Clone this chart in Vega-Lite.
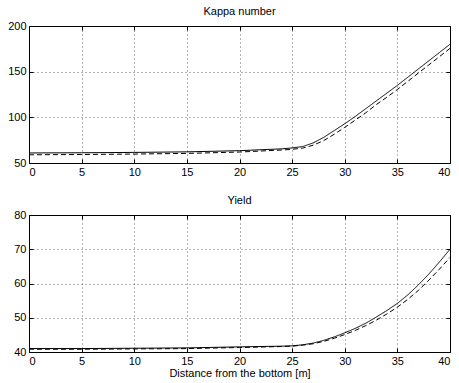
{
  "$schema": "https://vega.github.io/schema/vega-lite/v6.json",
  "padding": {"left": 7, "top": 5, "right": 7, "bottom": 2},
  "background": "white",
  "spacing": 16,
  "config": {
    "font": "Liberation Sans",
    "view": {"stroke": "black", "strokeWidth": 1},
    "axis": {
      "domain": false,
      "grid": true,
      "gridColor": "#000",
      "gridDash": [1, 3],
      "gridOpacity": 0.6,
      "tickColor": "#000",
      "tickSize": -4,
      "labelColor": "#000",
      "labelFont": "Liberation Sans",
      "labelFontSize": 11,
      "labelPadding": 7,
      "titleFont": "Liberation Sans",
      "titleFontSize": 11,
      "titleFontWeight": "normal",
      "titleColor": "#000"
    },
    "title": {"font": "Liberation Sans", "fontSize": 11, "fontWeight": "normal", "color": "#000", "offset": 3}
  },
  "data": {
    "values": [
      {"x": 0, "run": "solid", "kappa": 61.0, "yield": 41.0},
      {"x": 5, "run": "solid", "kappa": 61.2, "yield": 41.0},
      {"x": 10, "run": "solid", "kappa": 61.6, "yield": 41.1},
      {"x": 15, "run": "solid", "kappa": 62.2, "yield": 41.2},
      {"x": 20, "run": "solid", "kappa": 63.5, "yield": 41.5},
      {"x": 24, "run": "solid", "kappa": 65.5, "yield": 41.7},
      {"x": 25, "run": "solid", "kappa": 66.5, "yield": 41.8},
      {"x": 26, "run": "solid", "kappa": 68.0, "yield": 42.1},
      {"x": 27, "run": "solid", "kappa": 72.0, "yield": 42.6},
      {"x": 28, "run": "solid", "kappa": 78.0, "yield": 43.4},
      {"x": 29, "run": "solid", "kappa": 85.5, "yield": 44.4},
      {"x": 30, "run": "solid", "kappa": 93.0, "yield": 45.6},
      {"x": 31, "run": "solid", "kappa": 101.0, "yield": 46.9},
      {"x": 32, "run": "solid", "kappa": 109.5, "yield": 48.4},
      {"x": 33, "run": "solid", "kappa": 118.0, "yield": 50.2},
      {"x": 34, "run": "solid", "kappa": 126.5, "yield": 52.1},
      {"x": 35, "run": "solid", "kappa": 135.0, "yield": 54.2},
      {"x": 36, "run": "solid", "kappa": 144.0, "yield": 56.7},
      {"x": 37, "run": "solid", "kappa": 153.0, "yield": 59.6},
      {"x": 38, "run": "solid", "kappa": 162.0, "yield": 62.8},
      {"x": 39, "run": "solid", "kappa": 171.0, "yield": 66.3},
      {"x": 40, "run": "solid", "kappa": 180.0, "yield": 70.0},
      {"x": 0, "run": "dashed", "kappa": 59.0, "yield": 40.8},
      {"x": 5, "run": "dashed", "kappa": 59.3, "yield": 40.8},
      {"x": 10, "run": "dashed", "kappa": 59.8, "yield": 40.9},
      {"x": 15, "run": "dashed", "kappa": 60.5, "yield": 41.0},
      {"x": 20, "run": "dashed", "kappa": 62.0, "yield": 41.3},
      {"x": 24, "run": "dashed", "kappa": 64.2, "yield": 41.6},
      {"x": 25, "run": "dashed", "kappa": 65.0, "yield": 41.7},
      {"x": 26, "run": "dashed", "kappa": 66.3, "yield": 42.0},
      {"x": 27, "run": "dashed", "kappa": 69.5, "yield": 42.4},
      {"x": 28, "run": "dashed", "kappa": 74.5, "yield": 43.1},
      {"x": 29, "run": "dashed", "kappa": 81.5, "yield": 44.0},
      {"x": 30, "run": "dashed", "kappa": 89.0, "yield": 45.1},
      {"x": 31, "run": "dashed", "kappa": 97.0, "yield": 46.3},
      {"x": 32, "run": "dashed", "kappa": 105.0, "yield": 47.7},
      {"x": 33, "run": "dashed", "kappa": 114.0, "yield": 49.3},
      {"x": 34, "run": "dashed", "kappa": 122.0, "yield": 51.1},
      {"x": 35, "run": "dashed", "kappa": 130.5, "yield": 53.1},
      {"x": 36, "run": "dashed", "kappa": 139.5, "yield": 55.4},
      {"x": 37, "run": "dashed", "kappa": 148.5, "yield": 58.0},
      {"x": 38, "run": "dashed", "kappa": 157.5, "yield": 61.0},
      {"x": 39, "run": "dashed", "kappa": 166.5, "yield": 64.2},
      {"x": 40, "run": "dashed", "kappa": 175.5, "yield": 67.6}
    ]
  },
  "vconcat": [
    {
      "width": 421,
      "height": 137,
      "title": "Kappa number",
      "resolve": {"axis": {"x": "independent", "y": "independent"}},
      "layer": [
        {
          "mark": {"type": "line", "color": "black", "strokeWidth": 1, "clip": true},
          "encoding": {
            "x": {"field": "x", "type": "quantitative", "scale": {"domain": [0, 40], "nice": false}, "axis": {"values": [0,5,10,15,20,25,30,35,40], "title": null}},
            "y": {"field": "kappa", "type": "quantitative", "scale": {"domain": [50, 200], "nice": false, "zero": false}, "axis": {"values": [50,100,150,200], "title": null}},
            "strokeDash": {"field": "run", "type": "nominal", "scale": {"domain": ["solid", "dashed"], "range": [[1, 0], [5, 3]]}, "legend": null},
            "detail": {"field": "run"}
          }
        },
        {
          "mark": {"type": "line", "opacity": 0, "clip": true},
          "encoding": {
            "x": {"field": "x", "type": "quantitative", "axis": {"orient": "top", "values": [0,5,10,15,20,25,30,35,40], "labels": false, "grid": false, "title": null}},
            "y": {"field": "kappa", "type": "quantitative", "axis": {"orient": "right", "values": [50,100,150,200], "labels": false, "grid": false, "title": null}},
            "detail": {"field": "run"}
          }
        }
      ]
    },
    {
      "width": 421,
      "height": 137,
      "title": "Yield",
      "resolve": {"axis": {"x": "independent", "y": "independent"}},
      "layer": [
        {
          "mark": {"type": "line", "color": "black", "strokeWidth": 1, "clip": true},
          "encoding": {
            "x": {"field": "x", "type": "quantitative", "scale": {"domain": [0, 40], "nice": false}, "axis": {"values": [0,5,10,15,20,25,30,35,40], "title": "Distance from the bottom [m]", "titlePadding": 1}},
            "y": {"field": "yield", "type": "quantitative", "scale": {"domain": [40, 80], "nice": false, "zero": false}, "axis": {"values": [40,50,60,70,80], "title": null}},
            "strokeDash": {"field": "run", "type": "nominal", "scale": {"domain": ["solid", "dashed"], "range": [[1, 0], [5, 3]]}, "legend": null},
            "detail": {"field": "run"}
          }
        },
        {
          "mark": {"type": "line", "opacity": 0, "clip": true},
          "encoding": {
            "x": {"field": "x", "type": "quantitative", "axis": {"orient": "top", "values": [0,5,10,15,20,25,30,35,40], "labels": false, "grid": false, "title": null}},
            "y": {"field": "yield", "type": "quantitative", "axis": {"orient": "right", "values": [40,50,60,70,80], "labels": false, "grid": false, "title": null}},
            "detail": {"field": "run"}
          }
        }
      ]
    }
  ]
}
